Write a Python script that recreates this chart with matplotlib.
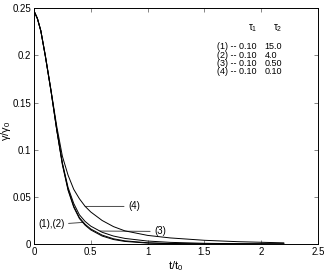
#Importing Libraries
import numpy as np
import matplotlib
matplotlib.use('Agg')
import matplotlib.pyplot as plt

plt.rcParams['font.family'] = ['Liberation Sans', 'DejaVu Sans']
plt.rcParams['mathtext.fontset'] = 'custom'
plt.rcParams['mathtext.rm'] = 'Liberation Sans'
plt.rcParams['mathtext.it'] = 'Liberation Sans'

#Data (t/t0 and gamma/gamma0)
t = [0.0, 0.03, 0.06, 0.1, 0.15, 0.2, 0.25, 0.3, 0.35, 0.4, 0.45, 0.5,
     0.6, 0.7, 0.8, 1.0, 1.2, 1.5, 1.8, 2.2]
curve1 = [0.247, 0.239, 0.226, 0.199, 0.162, 0.121, 0.084, 0.057, 0.039, 0.027,
          0.020, 0.015, 0.0085, 0.0048, 0.0028, 0.0010, 0.0004, 0.0001, 0.0, 0.0]
curve2 = [0.247, 0.239, 0.226, 0.199, 0.162, 0.121, 0.085, 0.058, 0.040, 0.028,
          0.021, 0.016, 0.0095, 0.0056, 0.0034, 0.0014, 0.0006, 0.0002, 0.0001, 0.0]
curve3 = [0.247, 0.239, 0.226, 0.199, 0.162, 0.122, 0.086, 0.060, 0.043, 0.031,
          0.024, 0.019, 0.0125, 0.0085, 0.0060, 0.0032, 0.0018, 0.0008, 0.0004, 0.0002]
curve4 = [0.247, 0.239, 0.226, 0.200, 0.163, 0.125, 0.093, 0.073, 0.058, 0.048,
          0.040, 0.034, 0.025, 0.0185, 0.014, 0.0092, 0.0065, 0.0040, 0.0025, 0.0013]
curves = [curve1, curve2, curve3, curve4]

tau1 = ['0.10', '0.10', '0.10', '0.10']
tau2 = ['15.0', '4.0', '0.50', '0.10']

fig = plt.figure(figsize=(3.27, 2.73), dpi=100)
ax = fig.add_axes([0.104, 0.106, 0.868, 0.864])

for c in curves:
    ax.plot(t, c, color='black', linewidth=0.7)

ax.set_xlim(0, 2.5)
ax.set_ylim(0, 0.25)
ax.set_xticks([0, 0.5, 1, 1.5, 2, 2.5])
ax.set_xticklabels(['0', '0.5', '1', '1.5', '2', '2.5'])
ax.set_yticks([0, 0.05, 0.1, 0.15, 0.2, 0.25])
ax.set_yticklabels(['0', '0.05', '0.1', '0.15', '0.2', '0.25'])
ax.tick_params(direction='in', length=3, width=0.5, labelsize=7,
               top=True, right=True, pad=2, colors='#555555', labelcolor='black')
for s in ax.spines.values():
    s.set_linewidth(0.7)

ax.set_xlabel('$t/t_0$', fontsize=8)
ax.xaxis.set_label_coords(0.5, -0.065)
ax.set_ylabel(r'$\gamma/\gamma_0$', fontsize=8)
ax.yaxis.set_label_coords(-0.075, 0.48)

#curve labels with leader lines
line_kw = dict(arrowstyle='-', color='black', linewidth=0.5, shrinkA=1, shrinkB=0)
ax.annotate('(1),(2)', xy=(0.43, np.interp(0.43, t, curve1)), xytext=(0.035, 0.021),
            fontsize=7, va='center', arrowprops=line_kw)
ax.annotate('(3)', xy=(0.58, np.interp(0.58, t, curve3)), xytext=(1.06, 0.0135),
            fontsize=7, va='center', arrowprops=line_kw)
ax.annotate('(4)', xy=(0.45, np.interp(0.45, t, curve4)), xytext=(0.83, 0.040),
            fontsize=7, va='center', arrowprops=line_kw)

#parameter table
ax.text(1.93, 0.229, r'$\tau_1$', fontsize=7, ha='center', va='center')
ax.text(2.15, 0.229, r'$\tau_2$', fontsize=7, ha='center', va='center')
col1 = '\n'.join('(%d) -- %s' % (i + 1, v) for i, v in enumerate(tau1))
col2 = '\n'.join(tau2)
ax.text(1.61, 0.1958, col1, fontsize=6.5, va='center', linespacing=0.9)
ax.text(2.03, 0.1958, col2, fontsize=6.5, va='center', linespacing=0.9)

plt.savefig('out.png', dpi=100)
